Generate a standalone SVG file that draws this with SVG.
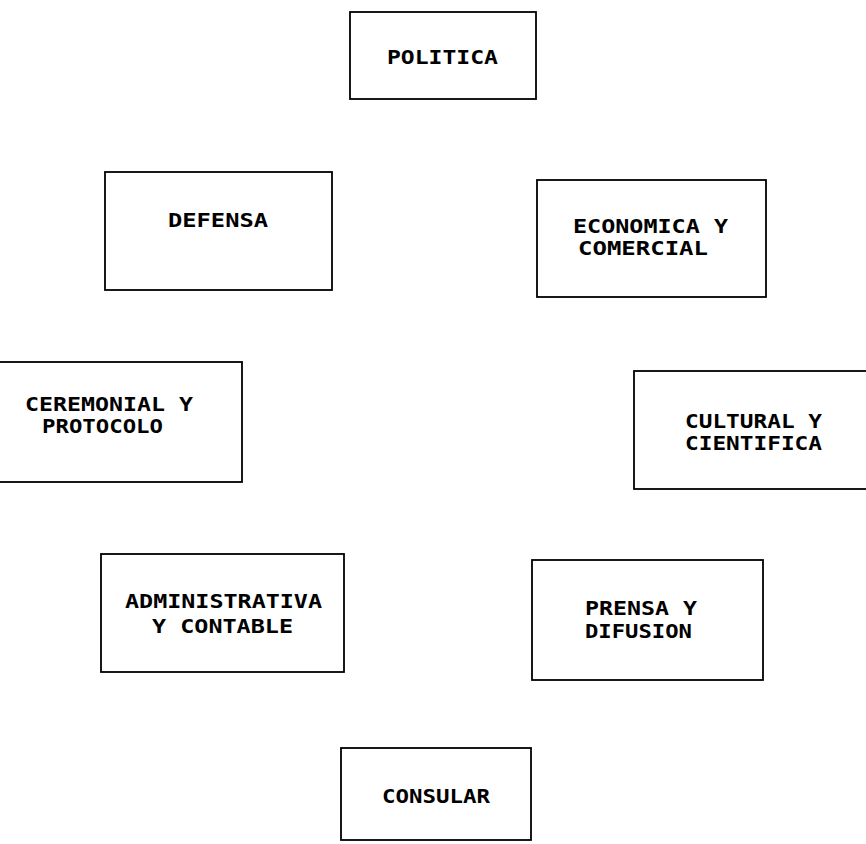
<svg xmlns="http://www.w3.org/2000/svg" width="866" height="844" viewBox="0 0 866 844">
<style>
.box{fill:#fff;stroke:#000;stroke-width:1.8}
.t{font-family:"DejaVu Sans Mono","Liberation Mono",monospace;font-weight:bold;font-size:19px;fill:#000}
</style>
<rect x="0" y="0" width="866" height="844" fill="#fff"/>
<g id="connectors"/>
<g id="politica"><rect class="box" x="350" y="12" width="186" height="87"/><text class="t" x="387" y="64" textLength="111" lengthAdjust="spacingAndGlyphs">POLITICA</text></g>
<g id="defensa"><rect class="box" x="105" y="172" width="227" height="118"/><text class="t" x="168" y="227" textLength="100" lengthAdjust="spacingAndGlyphs">DEFENSA</text></g>
<g id="economica"><rect class="box" x="537" y="180" width="229" height="117"/><text class="t" x="573" y="233" textLength="155" lengthAdjust="spacingAndGlyphs">ECONOMICA Y</text><text class="t" x="578" y="255" textLength="130" lengthAdjust="spacingAndGlyphs">COMERCIAL</text></g>
<g id="ceremonial"><rect class="box" x="-24" y="362" width="266" height="120"/><text class="t" x="25" y="411" textLength="168" lengthAdjust="spacingAndGlyphs">CEREMONIAL Y</text><text class="t" x="42" y="433" textLength="121" lengthAdjust="spacingAndGlyphs">PROTOCOLO</text></g>
<g id="cultural"><rect class="box" x="634" y="371" width="240" height="118"/><text class="t" x="685" y="428" textLength="137" lengthAdjust="spacingAndGlyphs">CULTURAL Y</text><text class="t" x="685" y="450" textLength="137" lengthAdjust="spacingAndGlyphs">CIENTIFICA</text></g>
<g id="administrativa"><rect class="box" x="101" y="554" width="243" height="118"/><text class="t" x="125" y="608" textLength="197" lengthAdjust="spacingAndGlyphs">ADMINISTRATIVA</text><text class="t" x="152" y="633" textLength="141" lengthAdjust="spacingAndGlyphs">Y CONTABLE</text></g>
<g id="prensa"><rect class="box" x="532" y="560" width="231" height="120"/><text class="t" x="585" y="615" textLength="112" lengthAdjust="spacingAndGlyphs">PRENSA Y</text><text class="t" x="585" y="638" textLength="107" lengthAdjust="spacingAndGlyphs">DIFUSION</text></g>
<g id="consular"><rect class="box" x="341" y="748" width="190" height="92"/><text class="t" x="382" y="803" textLength="108" lengthAdjust="spacingAndGlyphs">CONSULAR</text></g>
</svg>
